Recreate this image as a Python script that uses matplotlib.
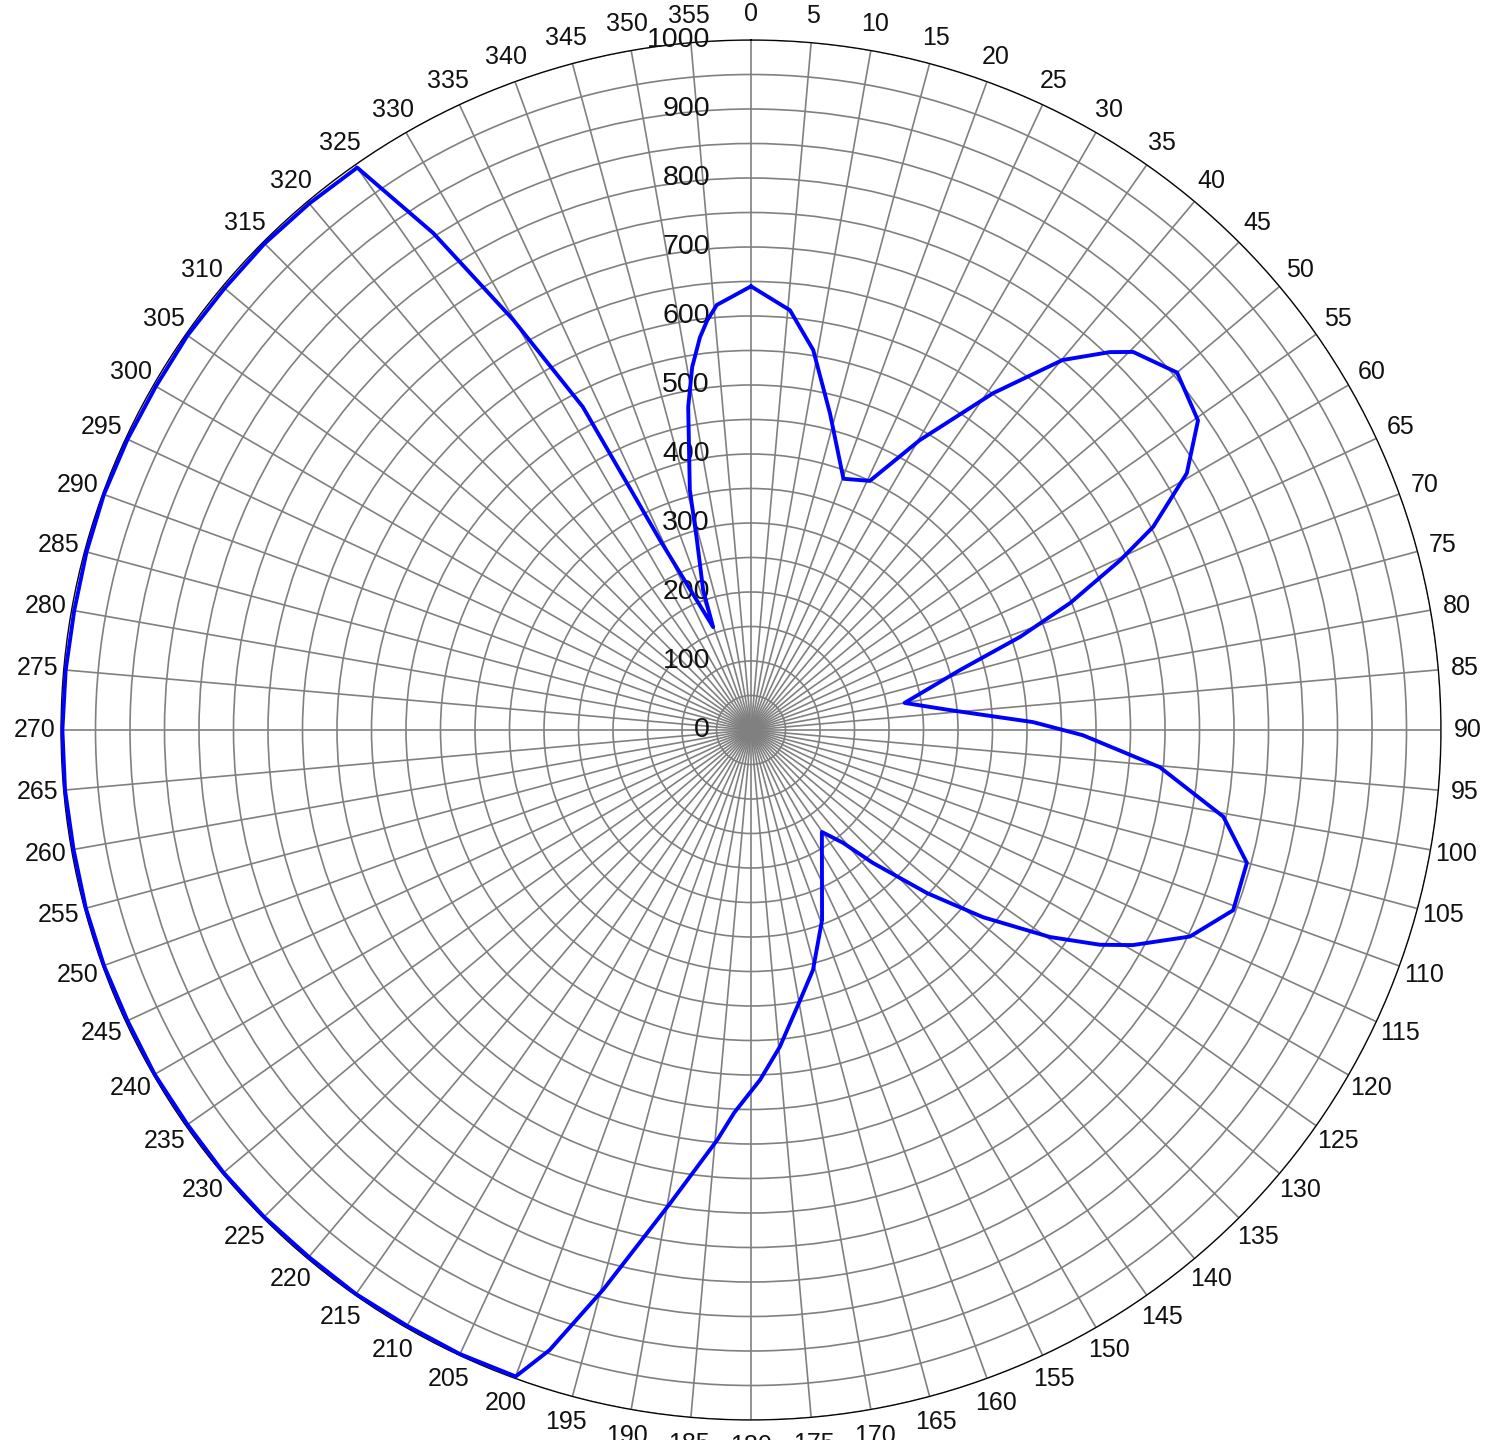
import numpy as np
import matplotlib
matplotlib.use("Agg")
import matplotlib.pyplot as plt
from matplotlib.transforms import offset_copy

plt.rc('font', family='Liberation Sans')

# Pattern samples: bearing in degrees (clockwise from north) and radius
angles = [0, 5.3, 9.3, 14, 20.2, 25.5, 30.2, 35.7, 40.1, 43.5, 45.3, 50,
          55.3, 59.5, 63.2, 65.3, 68.3, 70.9, 74, 80, 84.3, 88.4, 90.9,
          95.2, 100.4, 105, 110.5, 115.2, 119.4, 121.6, 124.7, 128.9, 132.8,
          137.5, 140.8, 145.2, 159.5, 165.5, 169.7, 174.8, 178.5, 182.5,
          184.7, 189.7, 194.8, 198, 200, 205, 210, 215, 220, 225, 230, 235,
          240, 245, 250, 255, 260, 265, 270, 275, 280, 285, 290, 295, 300,
          305, 310, 315, 320, 325, 327.4, 329.9, 332.5, 334.4, 339.8, 341.1,
          344.1, 345.7, 349.0, 350.8, 352.6, 353.9, 355.4, 360]
values = [643, 611, 558, 473, 388, 400, 486, 601, 701, 755, 779, 806,
          788, 733, 653, 589, 498, 413, 315, 226, 290, 409, 481,
          595, 696, 744, 746, 703, 635, 594, 527, 432, 348,
          261, 211, 180, 294, 359, 398, 461, 507, 555,
          596, 696, 839, 945, 997, 998, 997, 998, 997, 998, 998, 997,
          998, 997, 998, 998, 997, 998, 998, 997, 996, 997, 998, 997, 996,
          997, 996, 997, 996, 995, 855, 687, 528, 305, 159, 214,
          286, 359, 477, 533, 574, 597, 618, 643]

theta_ticks = list(range(0, 360, 5))
r_rings = list(range(0, 1001, 50))
r_labels = list(range(0, 1001, 100))

fig = plt.figure(figsize=(14.89, 14.40), dpi=100)
ax = fig.add_axes([0.04097, 0.01389, 0.92680, 0.95833], projection='polar')
ax.set_theta_zero_location('N')
ax.set_theta_direction(-1)
ax.set_ylim(0, 1000)

# grid: spokes every 5 deg, rings every 50
ax.set_thetagrids(theta_ticks, [str(t) for t in theta_ticks], fontsize=18)
ax.set_rgrids(r_rings, [''] * len(r_rings))
ax.grid(True, color='#808080', linewidth=1.2)
ax.tick_params(axis='x', pad=12, length=0, colors='#111111')
ax.tick_params(axis='y', length=0)
ax.spines['polar'].set_color('black')
ax.spines['polar'].set_linewidth(0.9)

# radial scale labels along the 0 deg spoke
lab_tr = offset_copy(ax.transData, fig=fig, x=-41, y=0, units='dots')
for r in r_labels:
    ax.text(0, r, str(r), transform=lab_tr, ha='right', va='center',
            fontsize=20.5, color='#111111')

ax.plot(np.deg2rad(angles), values, color='#0000ff', linewidth=2.8,
        clip_on=False, zorder=5)

fig.savefig("out.png", dpi=100)
